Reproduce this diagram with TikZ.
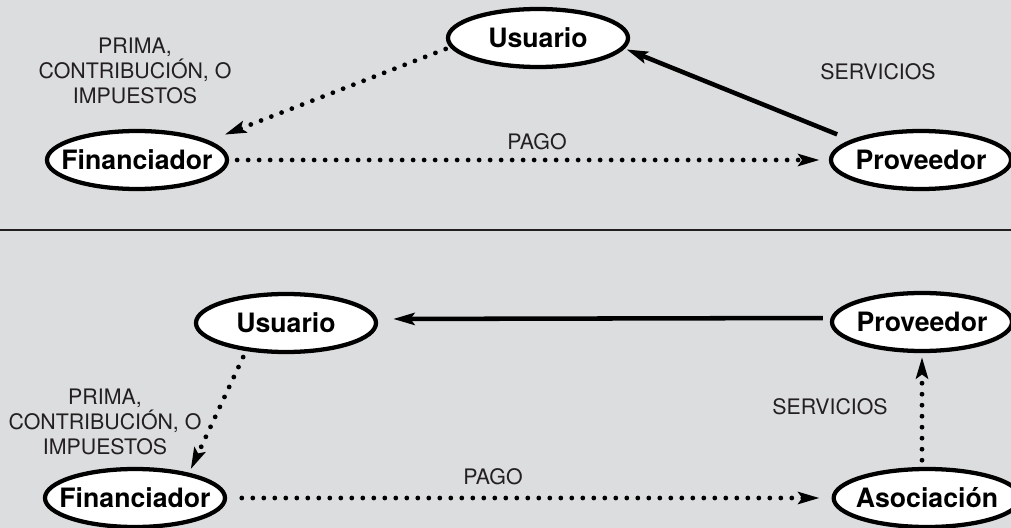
\documentclass[tikz,border=0pt]{standalone}
\usepackage{fontspec}
\setmainfont{TeX Gyre Heros}
\usetikzlibrary{shapes.geometric,arrows.meta}
\definecolor{bgc}{RGB}{220,221,223}
\definecolor{ink}{RGB}{35,31,32}
\begin{document}
\begin{tikzpicture}[x=0.75pt,y=-0.75pt,
  ent/.style={ellipse, draw=black, line width=3.2pt, fill=white, minimum width=135pt, minimum height=43.5pt, inner sep=0pt, font=\fontsize{20}{24}\selectfont\bfseries, text height=14.4pt, text depth=0pt},
  lbl/.style={font=\fontsize{16}{18.75}\selectfont, text=ink, align=center, inner sep=0pt},
  headtip/.style={-{Stealth[length=16pt,width=9pt,inset=3pt]}},
  dotarrow/.style={draw=black, line width=3.6pt, line cap=round, dash pattern=on 0pt off 8.25pt, headtip},
  solidarrow/.style={draw=black, line width=3.4pt, headtip},
  sepline/.style={draw=ink, line width=2pt}]
\fill[bgc] (0,0) rectangle (1011,528);
\useasboundingbox (0,0) rectangle (1011,528);
\coordinate (sepL) at (0,230);
\coordinate (sepR) at (1011,230);
\draw[sepline] (sepL) -- (sepR);
% top panel
\node[ent] (U1) at (538,38) {\makebox[0pt]{Usuario}};
\node[ent] (F1) at (137,160) {\makebox[0pt]{Financiador}};
\node[ent] (P1) at (921,160) {\makebox[0pt]{Proveedor}};
\node[lbl] (L1) at (135,71) {PRIMA,\\CONTRIBUCIÓN, O\\IMPUESTOS};
\node[lbl] (S1) at (878,72) {SERVICIOS};
\node[lbl] (G1) at (537,142) {PAGO};
\draw[dotarrow, shorten <=3.5pt, shorten >=12.5pt] (U1.186.9) -- (F1.15.4);
\draw[dotarrow, shorten <=6pt, shorten >=7pt] (F1.east) -- (P1.west);
\draw[solidarrow, shorten <=11pt, shorten >=1.5pt] (P1.164.3) -- (U1.-7.5);
% bottom panel
\node[ent] (U2) at (286,323) {\makebox[0pt]{Usuario}};
\node[ent] (P2) at (922,322) {\makebox[0pt]{Proveedor}};
\node[ent] (F2) at (135,498) {\makebox[0pt]{Financiador}};
\node[ent, minimum width=140pt] (A2) at (927,498) {\makebox[0pt]{Asociación}};
\node[lbl] (L2) at (105,422) {PRIMA,\\CONTRIBUCIÓN, O\\IMPUESTOS};
\node[lbl] (S2) at (830,407) {SERVICIOS};
\node[lbl] (G2) at (493,477) {PAGO};
\draw[solidarrow, shorten <=5.25pt, shorten >=11.25pt] ([yshift=3pt]P2.west) -- ([yshift=3pt]U2.east);
\draw[dotarrow, shorten <=5pt, shorten >=3pt] (U2.215.6) -- (F2.25.6);
\draw[dotarrow, shorten <=11pt, shorten >=9pt] (F2.east) -- (A2.west);
\draw[dotarrow, shorten <=5pt, shorten >=3pt] (A2.north -| P2.south) -- (P2.south);
\end{tikzpicture}
\end{document}
